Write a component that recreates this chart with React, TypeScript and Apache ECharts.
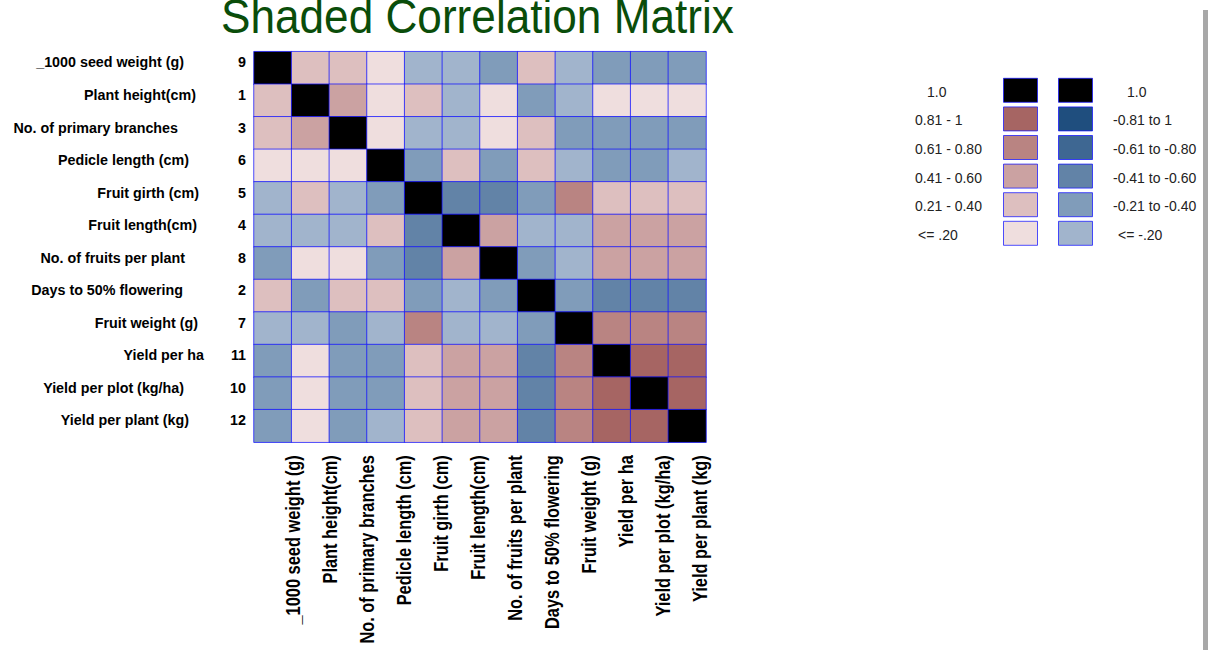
import React, { useEffect, useRef } from "react";
import * as echarts from "echarts";

// ---- data ----
const traitNames: string[] = [
  "_1000 seed weight (g)",
  "Plant height(cm)",
  "No. of primary branches",
  "Pedicle length (cm)",
  "Fruit girth (cm)",
  "Fruit length(cm)",
  "No. of fruits per plant",
  "Days to 50% flowering",
  "Fruit weight (g)",
  "Yield per ha",
  "Yield per plot (kg/ha)",
  "Yield per plant (kg)",
];
const traitCodes: string[] = ["9", "1", "3", "6", "5", "4", "8", "2", "7", "11", "10", "12"];

// correlation values (row = trait, column = trait)
const row0: number[] = [1, 0.3, 0.3, 0.1, -0.1, -0.1, -0.3, 0.3, -0.1, -0.3, -0.3, -0.3];
const row1: number[] = [0.3, 1, 0.5, 0.1, 0.3, -0.1, 0.1, -0.3, -0.1, 0.1, 0.1, 0.1];
const row2: number[] = [0.3, 0.5, 1, 0.1, -0.1, -0.1, 0.1, 0.3, -0.3, -0.3, -0.3, -0.3];
const row3: number[] = [0.1, 0.1, 0.1, 1, -0.3, 0.3, -0.3, 0.3, -0.1, -0.3, -0.3, -0.1];
const row4: number[] = [-0.1, 0.3, -0.1, -0.3, 1, -0.5, -0.5, -0.3, 0.7, 0.3, 0.3, 0.3];
const row5: number[] = [-0.1, -0.1, -0.1, 0.3, -0.5, 1, 0.5, -0.1, -0.1, 0.5, 0.5, 0.5];
const row6: number[] = [-0.3, 0.1, 0.1, -0.3, -0.5, 0.5, 1, -0.3, -0.1, 0.5, 0.5, 0.5];
const row7: number[] = [0.3, -0.3, 0.3, 0.3, -0.3, -0.1, -0.3, 1, -0.3, -0.5, -0.5, -0.5];
const row8: number[] = [-0.1, -0.1, -0.3, -0.1, 0.7, -0.1, -0.1, -0.3, 1, 0.7, 0.7, 0.7];
const row9: number[] = [-0.3, 0.1, -0.3, -0.3, 0.3, 0.5, 0.5, -0.5, 0.7, 1, 0.9, 0.9];
const row10: number[] = [-0.3, 0.1, -0.3, -0.3, 0.3, 0.5, 0.5, -0.5, 0.7, 0.9, 1, 0.9];
const row11: number[] = [-0.3, 0.1, -0.3, -0.1, 0.3, 0.5, 0.5, -0.5, 0.7, 0.9, 0.9, 1];
const matrixRows: number[][] = [row0, row1, row2, row3, row4, row5, row6, row7, row8, row9, row10, row11];

// legend texts
const posLabels: string[] = ["1.0", "0.81 - 1", "0.61 - 0.80", "0.41 - 0.60", "0.21 - 0.40", "<= .20"];
const negLabels: string[] = ["1.0", "-0.81 to 1", "-0.61 to -0.80", "-0.41 to -0.60", "-0.21 to -0.40", "<= -.20"];

// ---- styles ----
const posColors = ["#efdede", "#ddbfbf", "#cba2a2", "#b98482", "#a66563"]; // weak -> strong
const negColors = ["#a1b4cc", "#809cba", "#6283a7", "#3e6792", "#1f4e7e"];
const diagColor = "#000000";
const gridLineColor = "rgba(20,20,255,0.75)";
const titleColor = "#0a4d0a";
const FONT = '"Liberation Sans", Arial, sans-serif';
// right edge (px from the label block's left) of each row name, as laid out in the original
const nameEdge = [184, 196, 178, 189, 199, 197, 185, 183, 198, 204, 184, 189];
const LABEL_BLOCK = 246;

export default function App() {
  const ref = useRef<HTMLDivElement>(null);

  useEffect(() => {
    if (!ref.current) return;
    const chart = echarts.init(ref.current, null, { renderer: "svg" });

    const data: [number, number, number][] = [];
    matrixRows.forEach((row, r) => row.forEach((v, c) => data.push([c, r, v])));

    const gLeft = 254, gTop = 51.7, gW = 452, gH = 390.5;

    const rich: any = {};
    nameEdge.forEach((e, i) => {
      rich["n" + i] = { width: e, align: "right", fontFamily: FONT, fontWeight: "bold", fontSize: 14.3, color: "#000" };
      rich["c" + i] = { width: LABEL_BLOCK - e, align: "right", fontFamily: FONT, fontWeight: "bold", fontSize: 14.3, color: "#000" };
    });

    const option: any = {
      animation: false,
      backgroundColor: "#ffffff",
      grid: [
        { left: gLeft, top: gTop, width: gW, height: gH },
        { left: 274.5, top: gTop, width: 444, height: gH },
      ],
      xAxis: [
        {
          type: "category",
          gridIndex: 0,
          data: traitNames,
          axisLine: { show: false },
          axisTick: { show: false },
          axisLabel: { show: false },
          splitLine: { show: false },
        },
        {
          type: "category",
          gridIndex: 1,
          data: traitNames,
          axisLine: { show: false },
          axisTick: { show: false },
          axisLabel: { show: false },
          splitLine: { show: false },
        },
      ],
      yAxis: [
        {
          type: "category",
          gridIndex: 0,
          inverse: true,
          data: traitNames,
          axisLine: { show: false },
          axisTick: { show: false },
          splitLine: { show: false },
          axisLabel: {
            interval: 0,
            margin: 8,
            padding: [0, 0, 11, 0],
            formatter: (value: string, idx: number) => `{n${idx}|${value}}{c${idx}|${traitCodes[idx]}}`,
            rich,
          },
        },
        { type: "value", gridIndex: 1, show: false },
      ],
      visualMap: {
        type: "piecewise",
        show: false,
        dimension: 2,
        seriesIndex: 0,
        pieces: [
          { gt: 0.99, color: diagColor },
          { gt: 0.8, lte: 0.99, color: posColors[4] },
          { gt: 0.6, lte: 0.8, color: posColors[3] },
          { gt: 0.4, lte: 0.6, color: posColors[2] },
          { gt: 0.2, lte: 0.4, color: posColors[1] },
          { gte: 0, lte: 0.2, color: posColors[0] },
          { gte: -0.2, lt: 0, color: negColors[0] },
          { gte: -0.4, lt: -0.2, color: negColors[1] },
          { gte: -0.6, lt: -0.4, color: negColors[2] },
          { gte: -0.8, lt: -0.6, color: negColors[3] },
          { gte: -1, lt: -0.8, color: negColors[4] },
        ],
      },
      series: [
        {
          type: "heatmap",
          xAxisIndex: 0,
          yAxisIndex: 0,
          data,
          itemStyle: { borderColor: gridLineColor, borderWidth: 1 },
          emphasis: { disabled: true },
        },
      ],
    };

    chart.setOption(option);

    // legend
    const graphics: any[] = [];
    const posSw = [diagColor, posColors[4], posColors[3], posColors[2], posColors[1], posColors[0]];
    const negSw = [diagColor, negColors[4], negColors[3], negColors[2], negColors[1], negColors[0]];
    const posIndent = [12, 0, 0, 0, 0, 3];
    const negIndent = [14, 0, 0, 0, 0, 5];
    for (let i = 0; i < 6; i++) {
      const y = 78.3 + i * 28.6;
      graphics.push({
        type: "rect",
        shape: { x: 1003.5, y, width: 34, height: 24 },
        style: { fill: posSw[i], stroke: gridLineColor, lineWidth: 1 },
      });
      graphics.push({
        type: "rect",
        shape: { x: 1058.5, y, width: 34, height: 24 },
        style: { fill: negSw[i], stroke: gridLineColor, lineWidth: 1 },
      });
      graphics.push({
        type: "text",
        x: 915 + posIndent[i],
        y: y + 13.5,
        style: { text: posLabels[i], font: `14px ${FONT}`, fill: "#222", verticalAlign: "middle", align: "left" },
      });
      graphics.push({
        type: "text",
        x: 1113 + negIndent[i],
        y: y + 13.5,
        style: { text: negLabels[i], font: `14px ${FONT}`, fill: "#222", verticalAlign: "middle", align: "left" },
      });
    }

    // rotated, condensed column labels placed through the label axis scale
    const labelTop = gTop + gH + 13;
    traitNames.forEach((name, i) => {
      const px = chart.convertToPixel({ xAxisIndex: 1 }, i) as number;
      graphics.push({
        type: "text",
        x: px,
        y: labelTop,
        rotation: Math.PI / 2,
        scaleX: 0.82,
        style: {
          text: name,
          font: `bold 20px ${FONT}`,
          fill: "#000",
          align: "right",
          verticalAlign: "middle",
        },
      });
    });

    // title
    graphics.push({
      type: "text",
      x: 221,
      y: 40,
      scaleX: 0.92,
      style: {
        text: "Shaded Correlation Matrix",
        font: `48px ${FONT}`,
        fill: titleColor,
        verticalAlign: "bottom",
        align: "left",
      },
    });

    // window edge
    graphics.push({
      type: "rect",
      shape: { x: 1203, y: 10, width: 5, height: 640 },
      style: { fill: "#a8a8a8" },
    });

    chart.setOption({ graphic: graphics });
    return () => chart.dispose();
  }, []);

  return (
    <div
      ref={ref}
      style={{ position: "absolute", left: 0, top: 0, width: 1208, height: 650, background: "#fff" }}
    />
  );
}
